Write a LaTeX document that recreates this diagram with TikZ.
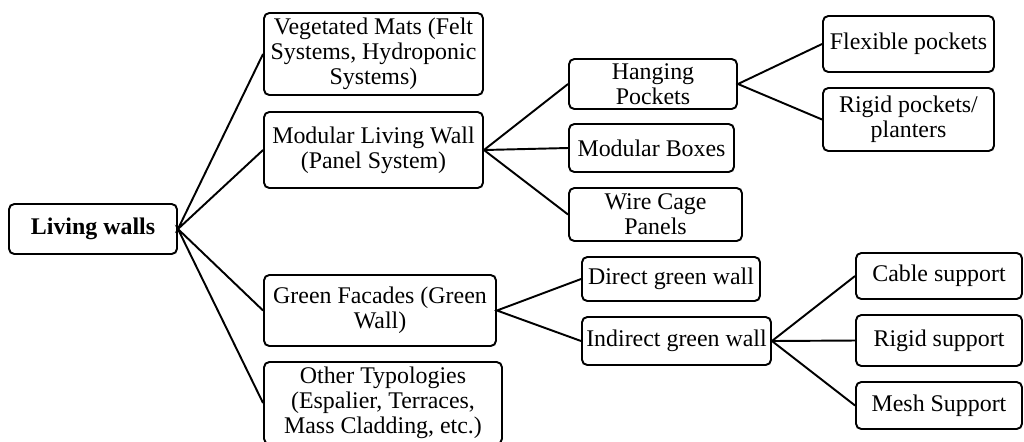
\documentclass[tikz,border=0pt]{standalone}
\usepackage{fontspec}
\setmainfont{Liberation Serif}
\usetikzlibrary{positioning}

\begin{document}
\begin{tikzpicture}[x=0.02cm,y=-0.02cm,
    box/.style={draw,line width=1.1pt,rounded corners=3pt,align=center,inner sep=1pt,
      font=\fontsize{13.6}{14.3}\selectfont},
    link/.style={line width=1.1pt}]
  \useasboundingbox (0,0) rectangle (1024,441);
  \node[box,minimum width=3.36cm,minimum height=1.0cm] (lw) at (93,229) {\textbf{Living walls}};
  \node[box,minimum width=4.38cm,minimum height=1.64cm] (mats) at (373.5,54) {Vegetated Mats (Felt\\Systems, Hydroponic\\Systems)};
  \node[box,minimum width=4.38cm,minimum height=1.52cm] (modular) at (373.5,150) {Modular Living Wall\\(Panel System)};
  \node[box,minimum width=4.64cm,minimum height=1.42cm] (facades) at (380,310.5) {Green Facades (Green\\Wall)};
  \node[box,minimum width=4.76cm,minimum height=1.64cm] (other) at (383,403) {Other Typologies\\(Espalier, Terraces,\\Mass Cladding, etc.)};

  \node[box,minimum width=3.36cm,minimum height=1.0cm] (hanging) at (653,84) {Hanging\\Pockets};
  \node[box,minimum width=3.3cm,minimum height=0.96cm] (boxes) at (651.5,148) {Modular Boxes};
  \node[box,minimum width=3.46cm,minimum height=1.06cm] (cage) at (655.5,214.5) {Wire Cage\\Panels};
  \node[box,minimum width=3.42cm,minimum height=1.12cm] (flexible) at (908.5,44) {Flexible pockets};
  \node[box,minimum width=3.42cm,minimum height=1.26cm] (rigidp) at (908.5,119.5) {Rigid pockets/\\planters};

  \node[box,minimum width=3.56cm,minimum height=0.88cm] (direct) at (671,279) {Direct green wall};
  \node[box,minimum width=3.78cm,minimum height=0.96cm] (indirect) at (676.5,341) {Indirect green wall};
  \node[box,minimum width=3.32cm,minimum height=0.92cm] (cable) at (939,276) {Cable support};
  \node[box,minimum width=3.32cm,minimum height=1.02cm] (rigids) at (939,340.5) {Rigid support};
  \node[box,minimum width=3.32cm,minimum height=0.94cm] (mesh) at (939,405.5) {Mesh Support};

  \draw[link] (mats.west) -- (lw.east) -- (modular.west);
  \draw[link] (facades.west) -- (lw.east) -- (other.west);
  \draw[link] (modular.east) -- (hanging.west);
  \draw[link] (modular.east) -- (boxes.west);
  \draw[link] (modular.east) -- (cage.west);
  \draw[link] (flexible.west) -- (hanging.east) -- (rigidp.west);
  \draw[link] (direct.west) -- (facades.east) -- (indirect.west);
  \draw[link] (indirect.east) -- (cable.west);
  \draw[link] (indirect.east) -- (rigids.west);
  \draw[link] (indirect.east) -- (mesh.west);
\end{tikzpicture}
\end{document}
